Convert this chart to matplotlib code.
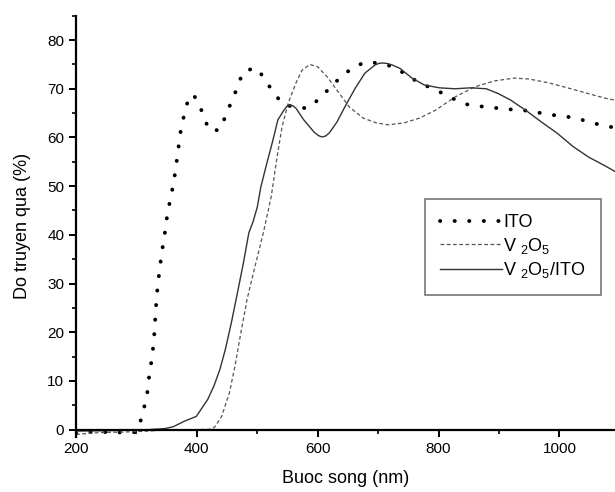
import numpy as np
import matplotlib
matplotlib.use('Agg')
import matplotlib.pyplot as plt

plt.rcParams['font.family'] = ['Liberation Sans', 'DejaVu Sans']
plt.rcParams['mathtext.fontset'] = 'custom'
plt.rcParams['mathtext.rm'] = 'Liberation Sans'

# %% Data
ito_x = [200, 220, 240, 260, 280, 300, 304, 311, 318, 321, 326, 329, 332, 334, 337, 341,
         347, 352, 357, 364, 369, 374, 379, 384, 394, 404, 412, 420, 437, 447, 455, 463,
         470, 480, 500, 513, 526, 541, 558, 582, 604, 622, 642, 662, 682, 704, 723, 743,
         763, 785, 808, 827, 847, 869, 892, 915, 940, 970, 990, 1016, 1035, 1058, 1077, 1095]
ito_y = [-0.8, -0.5, -0.6, -0.4, -0.7, -0.5, 0.6, 3.5, 7.6, 10.9, 15, 18.5, 24.6, 28, 31.4, 35.5,
         40.4, 45, 47.6, 52.7, 57.4, 62, 64.6, 67, 68.9, 66.7, 64.2, 61.5, 61.5, 64.2, 66.7, 69,
         71.6, 73.8, 74.2, 71.8, 69.4, 67, 66.3, 66, 68, 70.5, 72.8, 74.7, 75.5, 75.2, 74.6, 73.2,
         71.6, 70.3, 69, 67.8, 66.8, 66.4, 66.1, 65.8, 65.6, 65, 64.6, 64.2, 63.7, 62.9, 62.3, 62.0]

v2o5_x = [200, 240, 280, 320, 360, 400, 425, 430, 441, 454, 463, 473, 483, 496, 510, 523,
          532, 541, 551, 564, 574, 587, 600, 616, 632, 652, 675, 697, 717, 743, 769, 795,
          827, 860, 892, 925, 950, 983, 1016, 1048, 1078, 1095]
v2o5_y = [-1.0, -0.6, -0.5, -0.3, 0, 0, 0.1, 0.6, 2.7, 7.6, 13, 20, 26.7, 33.4, 40.4, 47.8,
          55.4, 62.2, 67, 71.2, 73.8, 75, 74.5, 72.4, 69.7, 66.3, 64, 63, 62.6, 63, 64, 65.6,
          68.3, 70.4, 71.6, 72.2, 72, 71.2, 70.1, 69, 68, 67.6]

comp_x = [200, 260, 320, 347, 361, 379, 399, 405, 418, 428, 438, 447, 457, 467, 477, 486,
          493, 500, 506, 516, 526, 534, 544, 549, 554, 559, 564, 577, 594, 601, 607, 613, 619, 632,
          645, 662, 678, 695, 701, 707, 715, 723, 736, 756, 776, 801, 827, 854, 879, 899, 919,
          944, 970, 996, 1023, 1048, 1078, 1095]
comp_y = [-0.3, -0.2, 0, 0.2, 0.6, 1.7, 2.7, 3.8, 6.2, 8.9, 12.3, 16.4, 21.9, 28, 34.2, 40.4,
          42.7, 45.7, 49.9, 54.8, 59.5, 63.6, 65.6, 66.4, 66.7, 66.5, 66, 63.6, 61.1, 60.4, 60.1, 60.3,
          60.9, 63.2, 66.3, 70.1, 73.2, 74.9, 75.2, 75.3, 75.2, 74.9, 74.2, 72.2, 70.8, 70.2, 70,
          70.2, 70, 69, 67.7, 65.6, 63.2, 60.9, 58.1, 56, 54, 52.8]

# %% Plot
fig = plt.figure(figsize=(6.15, 4.92), dpi=100)
ax = fig.add_axes([0.1236, 0.112, 0.8764, 0.856])

ax.plot(ito_x, ito_y, color='black', lw=2.8, linestyle=(0, (0.05, 3.7)),
        dash_capstyle='round', label='ITO')
ax.plot(v2o5_x, v2o5_y, color='#555555', lw=0.9, linestyle=(0, (3, 2)),
        label=r'V $_{2}$O$_{5}$')
ax.plot(comp_x, comp_y, color='#333333', lw=1.0, linestyle='-',
        label=r'V $_{2}$O$_{5}$/ITO')

ax.set_xlim(200, 1092)
ax.set_ylim(-1.5, 85)
ax.spines['top'].set_visible(False)
ax.spines['right'].set_visible(False)
ax.spines['bottom'].set_position(('data', 0))
ax.spines['left'].set_linewidth(1.6)
ax.spines['bottom'].set_linewidth(1.6)

ax.set_xticks(np.arange(200, 1001, 200))
ax.set_xticks(np.arange(300, 1100, 200), minor=True)
ax.set_yticks(np.arange(0, 81, 10))
ax.set_yticks(np.arange(5, 86, 10), minor=True)
ax.tick_params(axis='both', which='major', direction='out', length=5, width=1.4,
               labelsize=11, colors='black')
ax.tick_params(axis='both', which='minor', direction='out', length=3, width=1.2)
ax.tick_params(axis='x', pad=4)

ax.set_xlabel('Buoc song (nm)', fontsize=13, labelpad=10)
ax.set_ylabel('Do truyen qua (%)', fontsize=13, labelpad=12)

leg = ax.legend(loc='upper left', bbox_to_anchor=(0.6305, 0.587), frameon=True,
                fancybox=False, edgecolor='#555555', fontsize=13, handlelength=3.4,
                handletextpad=0.1, labelspacing=0.25, borderpad=0.85)
leg.get_frame().set_linewidth(1.2)

fig.savefig('out.png', dpi=100)
